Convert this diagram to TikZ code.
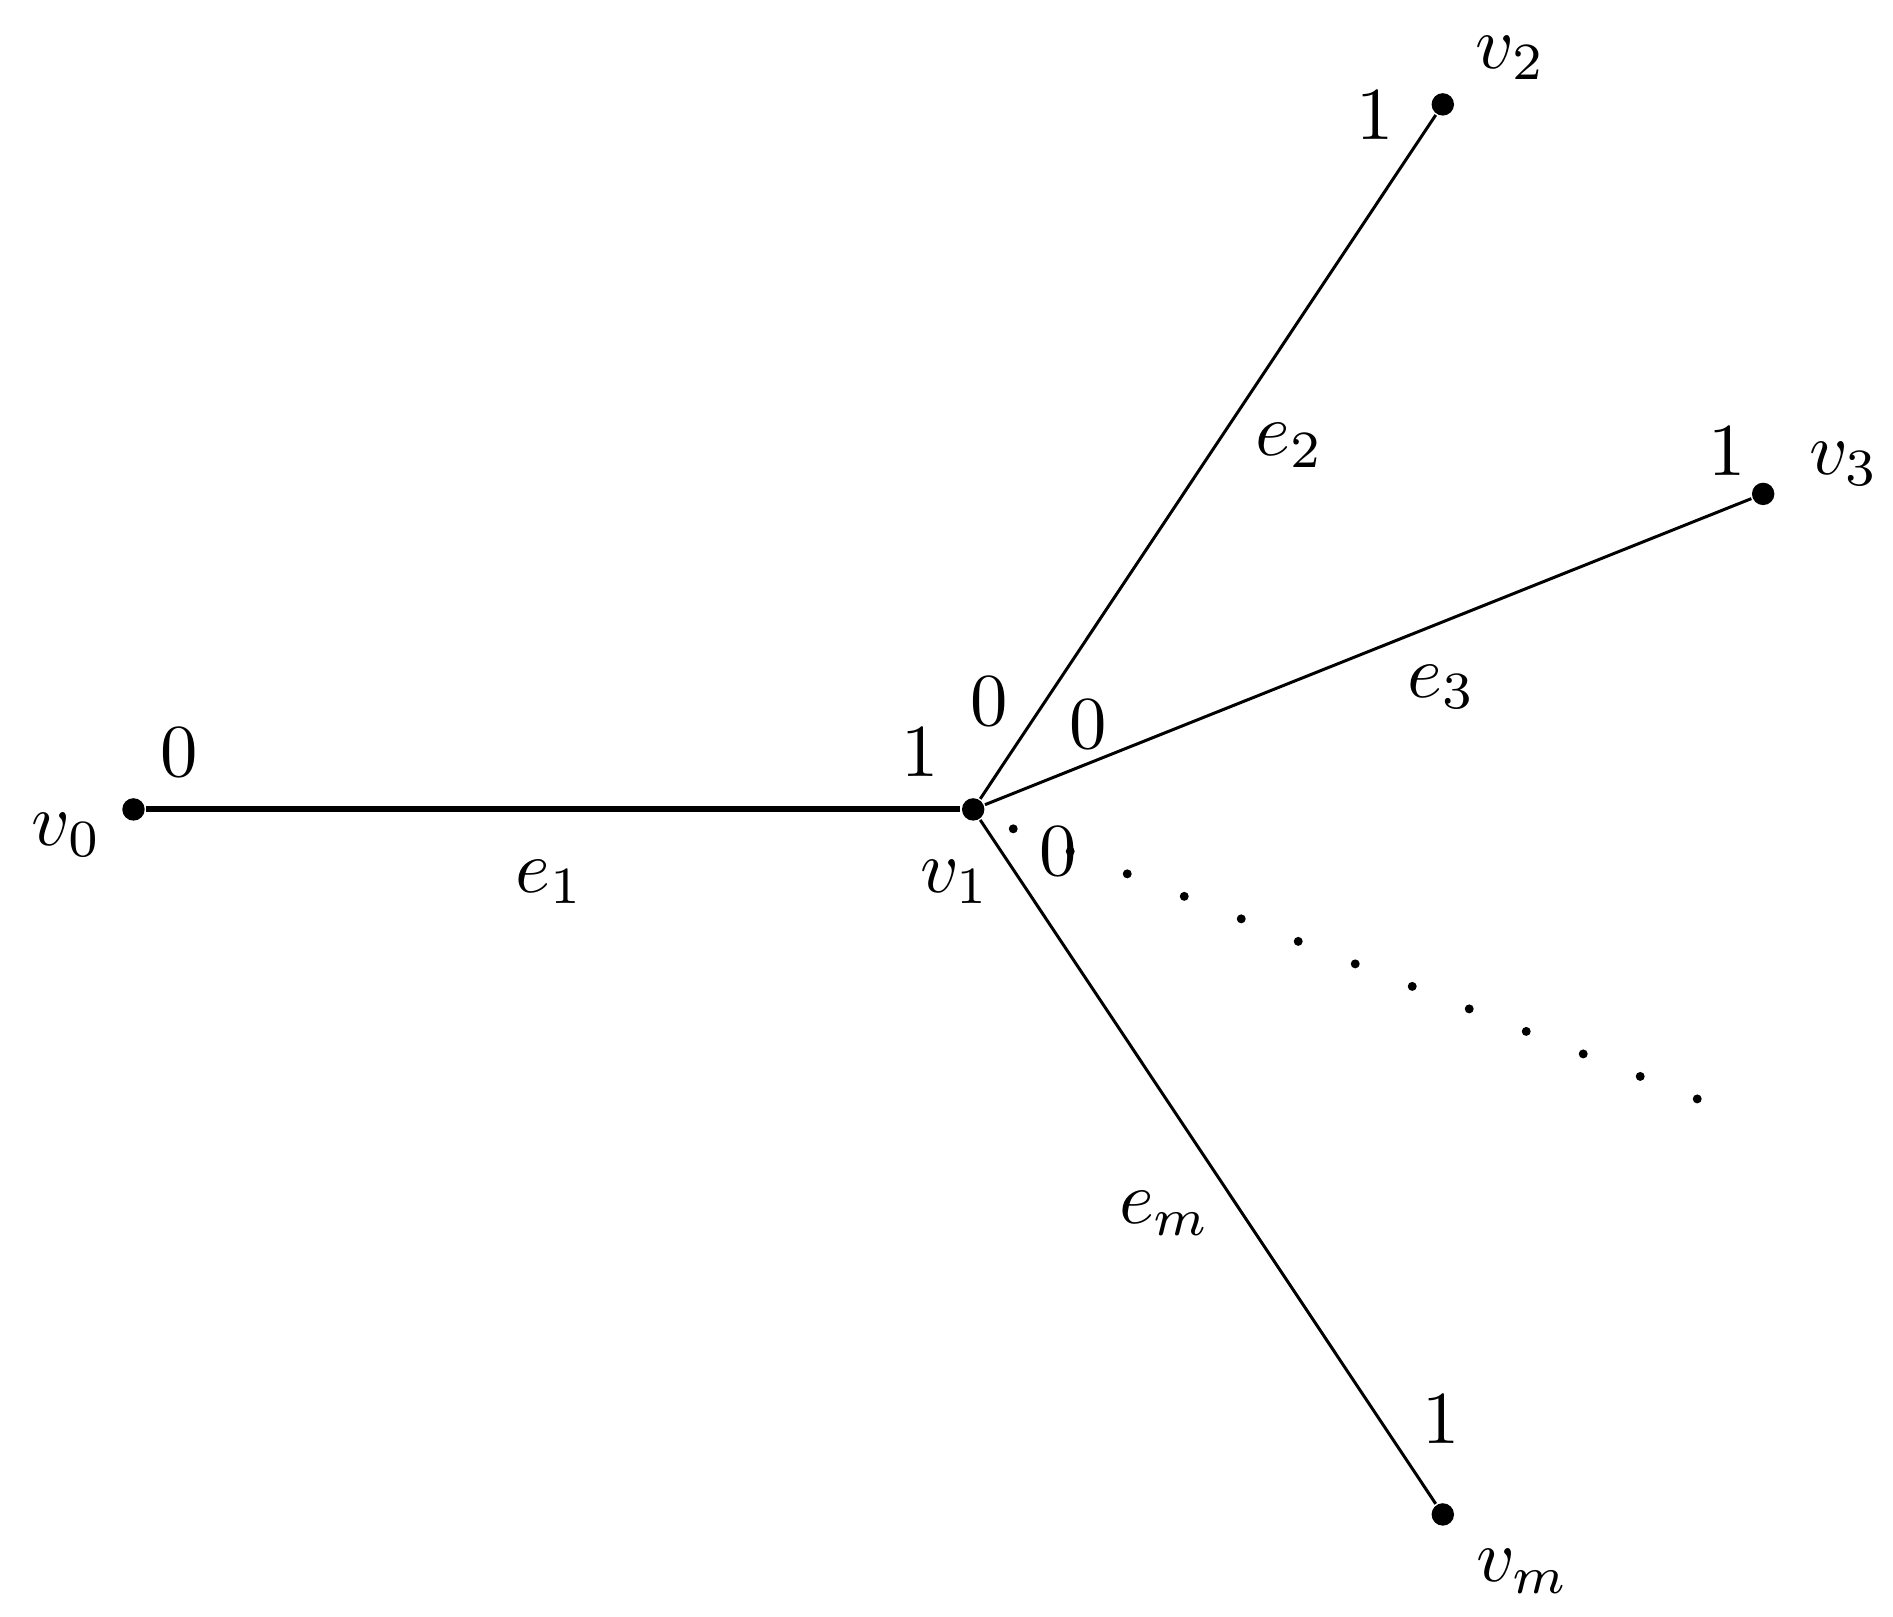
\documentclass[tikz,border=0pt]{standalone}
\begin{document}
\begin{tikzpicture}[x=0.0057cm,y=-0.0057cm,
  vtx/.style={circle,fill,inner sep=0pt,minimum size=3pt},
  lab/.style={inner sep=0pt}]
\useasboundingbox (0,0) rectangle (1560,1332);
\node[vtx] (v0) at (110,667) {};
\node[vtx] (v1) at (802,667) {};
\node[vtx] (v2) at (1189,86) {};
\node[vtx] (v3) at (1453,407) {};
\node[vtx] (vm) at (1189,1248) {};
\coordinate (d0) at (835,683);
\coordinate (d1) at (1425,916);
\draw[line width=0.8pt] (v0) -- (v1);
\draw (v1) -- (v2);
\draw (v1) -- (v3);
\draw (v1) -- (vm);
\draw[line width=1.2pt,line cap=round,dash pattern=on 0pt off 8.2pt] (d0) -- (d1);
\node[lab] (a1) at (148,620) {$0$};
\node[lab] (a2) at (55,688) {$v_0$};
\node[lab] (a3) at (453,727) {$e_1$};
\node[lab] (a4) at (758,620) {$1$};
\node[lab] (a5) at (787,727) {$v_1$};
\node[lab] (a6) at (815,578) {$0$};
\node[lab] (a7) at (897,597) {$0$};
\node[lab] (a8) at (872,702) {$0$};
\node[lab] (a9) at (1133,95) {$1$};
\node[lab] (a10) at (1245,48) {$v_2$};
\node[lab] (a11) at (1063,367) {$e_2$};
\node[lab] (a12) at (1423,372) {$1$};
\node[lab] (a13) at (1520,382) {$v_3$};
\node[lab] (a14) at (1188,566) {$e_3$};
\node[lab] (a15) at (960,1000) {$e_m$};
\node[lab] (a16) at (1188,1170) {$1$};
\node[lab] (a17) at (1255,1295) {$v_m$};
\end{tikzpicture}
\end{document}
